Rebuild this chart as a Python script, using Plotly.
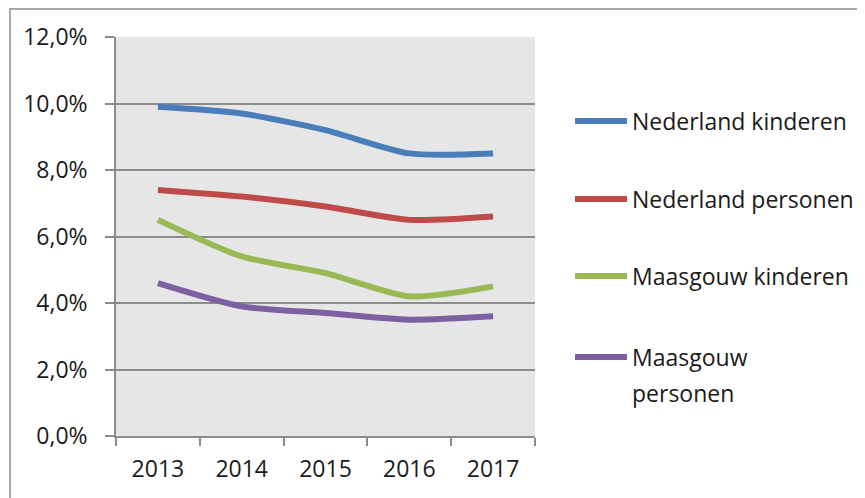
import plotly.graph_objects as go

years = ["2013", "2014", "2015", "2016", "2017"]
series_names = ["Nederland kinderen", "Nederland personen", "Maasgouw kinderen", "Maasgouw personen"]
nl_kinderen = [9.9, 9.7, 9.2, 8.5, 8.5]
nl_personen = [7.4, 7.2, 6.9, 6.5, 6.6]
mg_kinderen = [6.5, 5.4, 4.9, 4.2, 4.5]
mg_personen = [4.6, 3.9, 3.7, 3.5, 3.6]
series_values = [nl_kinderen, nl_personen, mg_kinderen, mg_personen]
colors = ["#4a7ebb", "#be4b48", "#98b954", "#7d60a0"]

# page body has an 8px margin; figure fills the rest of the 865x498 window
OFF = 8
W, H = 865 - OFF, 498 - OFF
# plot area in window pixels
L, R, T, B = 116 - OFF, 535 - OFF, 37 - OFF, 436 - OFF
FONT = "Open Sans"
FS = 23

def px(x):
    return (x - OFF - L) / (R - L)

def py(y):
    return (B - (y - OFF)) / (B - T)

fig = go.Figure()
for name, vals, c in zip(series_names, series_values, colors):
    fig.add_trace(go.Scatter(x=years, y=vals, name=name, mode="lines",
                             line=dict(color=c, width=6, shape="spline", smoothing=0.7),
                             showlegend=False))

shapes = []
annotations = []
# outer chart border
shapes.append(dict(type="rect", xref="paper", yref="paper",
                   x0=px(10), x1=px(880), y0=py(520), y1=py(9),
                   line=dict(color="#8c8c8c", width=1.5), layer="below"))

legend_y = [121, 199, 276, 357]
for name, c, ly in zip(series_names, colors, legend_y):
    shapes.append(dict(type="line", xref="paper", yref="paper",
                       x0=px(575), x1=px(627), y0=py(ly), y1=py(ly),
                       line=dict(color=c, width=6)))
    parts = ["Maasgouw", "personen"] if name == "Maasgouw personen" else [name]
    for i, p in enumerate(parts):
        annotations.append(dict(text=p, xref="paper", yref="paper",
                                x=px(630), y=py(ly + 36 * i), xanchor="left", yanchor="middle",
                                showarrow=False, font=dict(family=FONT, size=FS, color="#1a1a1a")))

fig.update_layout(
    width=W, height=H,
    margin=dict(l=L, r=W - R, t=T, b=H - B, pad=0, autoexpand=False),
    paper_bgcolor="white",
    plot_bgcolor="#e6e6e6",
    separators=",.",
    font=dict(family=FONT, size=FS, color="#1a1a1a"),
    shapes=shapes,
    annotations=annotations,
    xaxis=dict(type="category", range=[-0.5, 4.5], tickson="boundaries", ticks="outside", ticklen=8,
               tickcolor="#8c8c8c", tickwidth=1.5, showline=True, linecolor="#8c8c8c",
               linewidth=1.5, showgrid=False, ticklabelstandoff=12, automargin=False,
               tickfont=dict(family=FONT, size=FS, color="#1a1a1a")),
    yaxis=dict(range=[0, 12], dtick=2, tickformat=".1f", ticksuffix="%",
               ticks="outside", ticklen=9, tickcolor="#8c8c8c", tickwidth=1.5,
               showline=True, linecolor="#8c8c8c", linewidth=1.5,
               showgrid=True, gridcolor="#8c8c8c", gridwidth=1.5, zeroline=False,
               ticklabelstandoff=13, automargin=False,
               tickfont=dict(family=FONT, size=FS, color="#1a1a1a")),
)

fig.write_html("out.html")
